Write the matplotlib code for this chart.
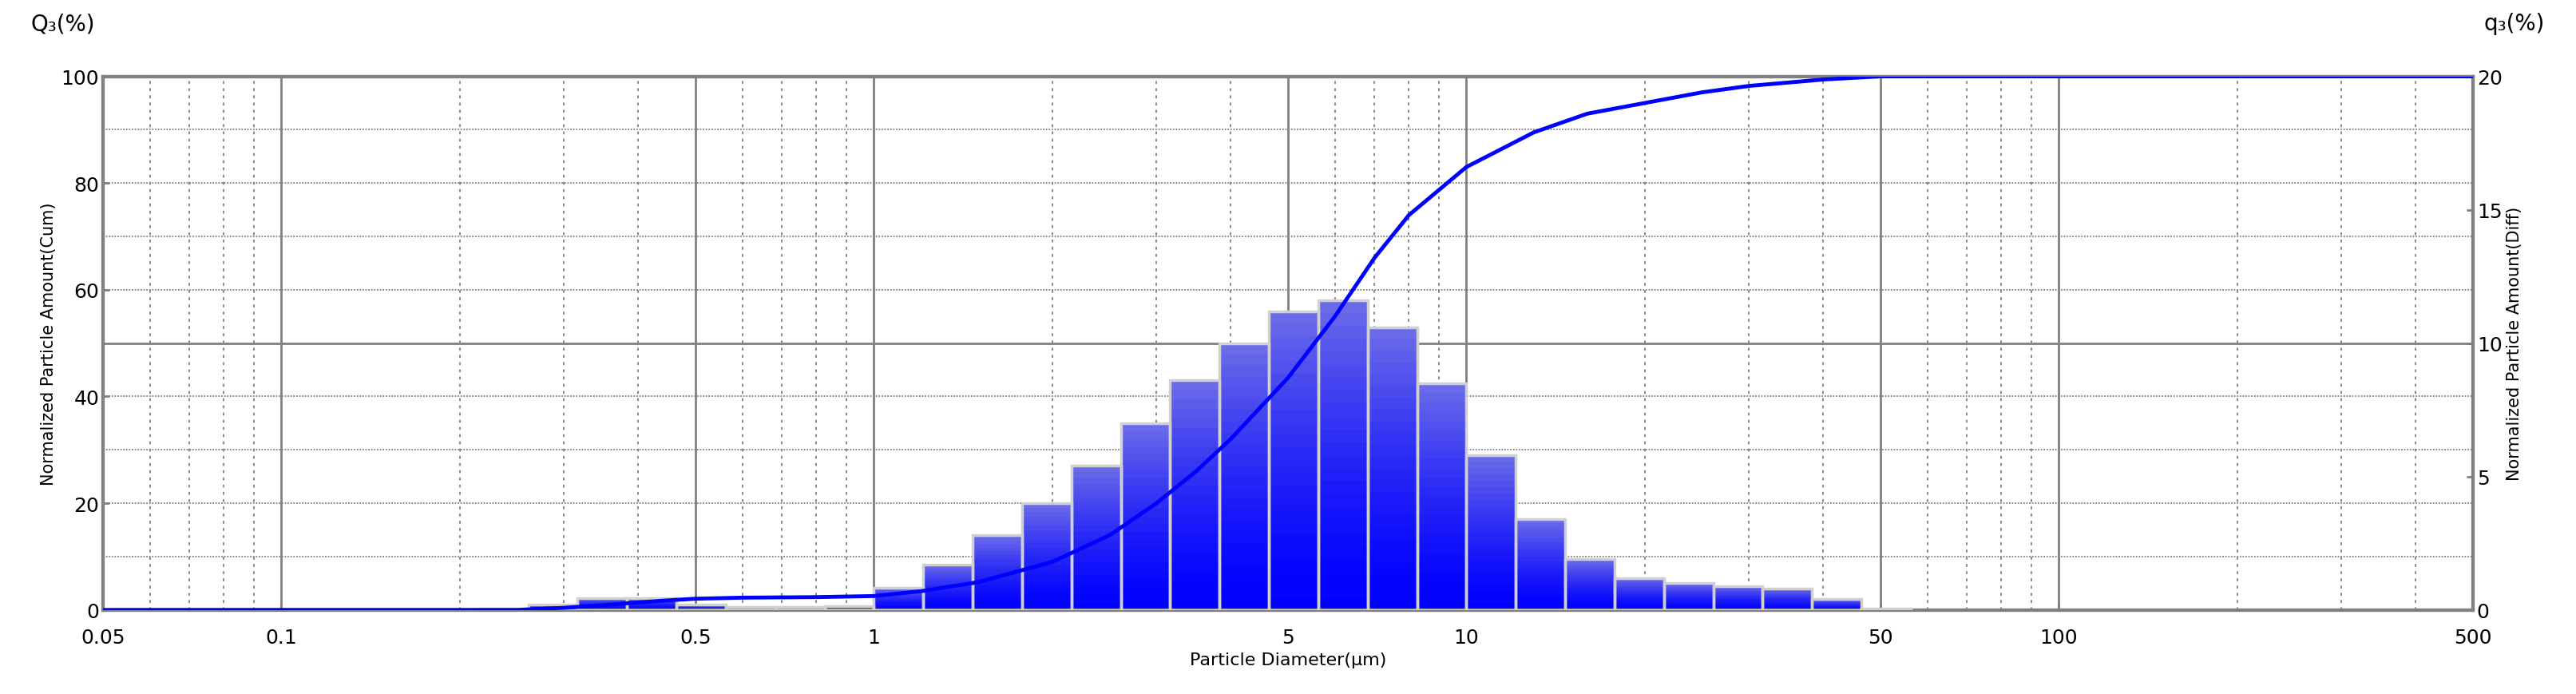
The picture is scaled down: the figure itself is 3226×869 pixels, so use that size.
import numpy as np
import matplotlib
matplotlib.use("Agg")
import matplotlib.pyplot as plt
from matplotlib.colors import to_rgb

# bins: 12 per decade, index k -> edges 10^(k/12) .. 10^((k+1)/12)
bin_index = list(range(-8, 21))
q3 = [0.05, 0.2, 0.45, 0.45, 0.2, 0.1, 0.1, 0.15,
      0.84, 1.7, 2.8, 4.0, 5.4, 7.0, 8.6, 10.0, 11.2, 11.6, 10.6, 8.5,
      5.8, 3.4, 1.9, 1.2, 1.0, 0.9, 0.8, 0.4, 0.05]

cum_x = [0.05, 0.25, 0.3, 0.35, 0.4, 0.45, 0.5, 0.6, 0.8, 1.0, 1.2, 1.5, 2.0, 2.5, 3.0,
         3.5, 4.0, 5.0, 6.0, 7.0, 8.0, 10.0, 13.0, 16.0, 20.0, 25.0, 30.0, 40.0, 50.0, 500.0]
cum_Q = [0, 0, 0.4, 0.9, 1.4, 1.8, 2.1, 2.3, 2.4, 2.6, 3.5, 5.2, 9.0, 14.0, 20.0,
         26.0, 32.0, 43.5, 55.0, 66.0, 74.0, 83.0, 89.5, 93.0, 95.0, 97.0, 98.2, 99.4, 100, 100]

xticks = [0.05, 0.1, 0.5, 1, 5, 10, 50, 100, 500]
xticklabels = ["0.05", "0.1", "0.5", "1", "5", "10", "50", "100", "500"]

fig = plt.figure(figsize=(32.26, 8.7), dpi=100)
ax = fig.add_axes([0.040, 0.121, 0.920, 0.768])
ax2 = ax.twinx()
ax.set_xscale("log")
ax.set_xlim(0.05, 500)
ax.set_ylim(0, 100)
ax2.set_ylim(0, 20)

gcol = "#808080"
majors = [0.1, 0.5, 1, 5, 10, 50, 100]
minors = [d * m for d in [0.01, 0.1, 1, 10, 100] for m in [2, 3, 4, 6, 7, 8, 9]]
minors = [v for v in minors if 0.05 < v < 500 and v not in majors]
for v in minors:
    ax.axvline(v, color=gcol, lw=1.3, ls=(0, (2, 3)), zorder=0)
for v in majors:
    ax.axvline(v, color=gcol, lw=2.0, zorder=0)
for v in [10, 20, 30, 40, 60, 70, 80, 90]:
    ax.axhline(v, color=gcol, lw=1.3, ls=(0, (1, 1)), zorder=0)
ax.axhline(50, color=gcol, lw=2.0, zorder=0)

top = np.array(to_rgb("#6e6ee8"))
bot = np.array(to_rgb("#0000ff"))
N = 24
for k, h in zip(bin_index, q3):
    x0 = 10 ** (k / 12)
    x1 = 10 ** ((k + 1) / 12)
    for i in range(N):
        t = (i + 0.5) / N
        c = bot * (1 - t ** 1.5) + top * t ** 1.5
        ax2.bar(x0, h / N, width=x1 - x0, bottom=h * i / N, align="edge",
                color=c, linewidth=0, zorder=2)
    ax2.bar(x0, h, width=x1 - x0, align="edge", facecolor="none",
            edgecolor="#d0d0d0", linewidth=2.5, zorder=3)

ax2.plot(cum_x, np.array(cum_Q) / 5, color="#0000ff", lw=3.5, zorder=4)

ax.set_xticks(xticks)
ax.set_xticklabels(xticklabels)
ax.xaxis.set_minor_locator(matplotlib.ticker.NullLocator())
ax.set_yticks([0, 20, 40, 60, 80, 100])
ax2.set_yticks([0, 5, 10, 15, 20])
for a in (ax, ax2):
    a.tick_params(labelsize=18, length=6, width=2, color=gcol, direction="in")
    for s in a.spines.values():
        s.set_color(gcol)
        s.set_linewidth(3)
ax.tick_params(axis="x", pad=16)
ax.set_xlabel("Particle Diameter(μm)", fontsize=16, labelpad=4)
ax.set_ylabel("Normalized Particle Amount(Cum)", fontsize=15)
ax2.set_ylabel("Normalized Particle Amount(Diff)", fontsize=15)
fig.text(0.012, 0.965, "Q₃(%)", fontsize=20, va="center")
fig.text(0.988, 0.965, "q₃(%)", fontsize=20, va="center", ha="right")
fig.savefig("out.png", dpi=100)
